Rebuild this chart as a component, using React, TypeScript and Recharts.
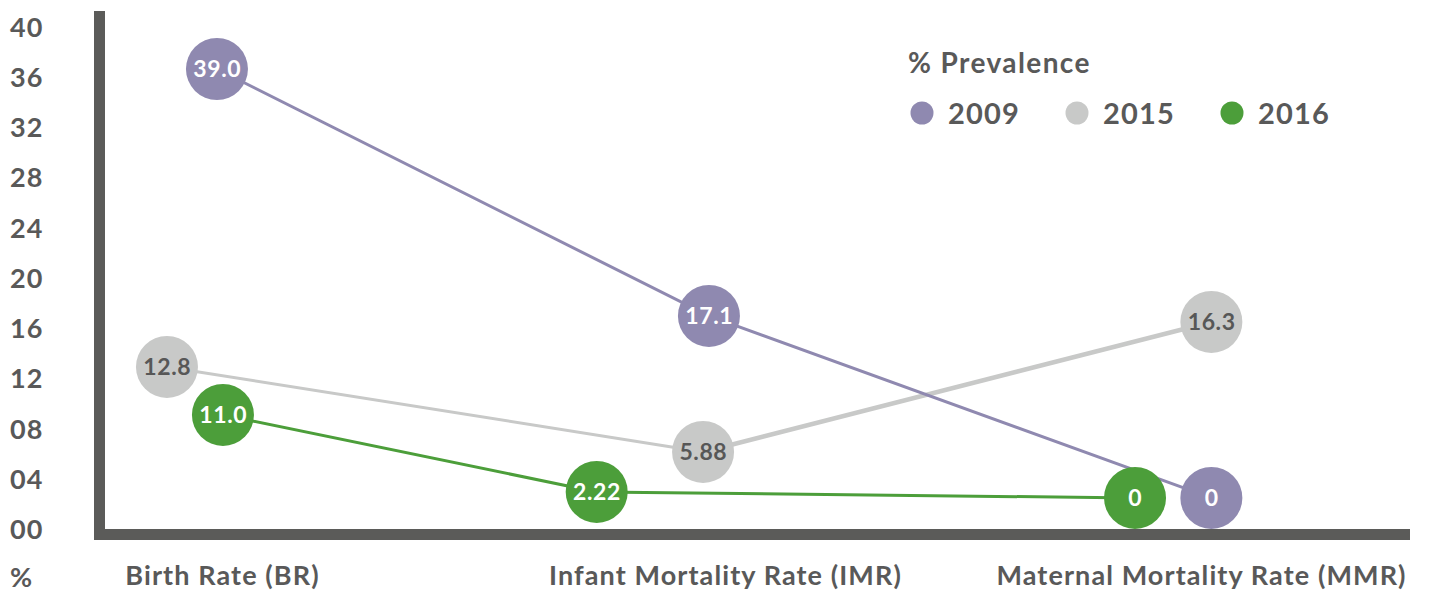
import React from 'react';
import { LineChart, Line, XAxis, YAxis, Legend, Label } from 'recharts';

// ---- data ----
const categories = ['Birth Rate (BR)', 'Infant Mortality Rate (IMR)', 'Maternal Mortality Rate (MMR)'];
const categoryPositions = [9.39, 47.93, 84.41];
const yTicks = [0, 4, 8, 12, 16, 20, 24, 28, 32, 36, 40];
const yTickLabels = ['00', '04', '08', '12', '16', '20', '24', '28', '32', '36', '40'];

const years = ['2009', '2015', '2016'];
const colors = ['#8f89b0', '#c8c9c8', '#4c9e3a'];
const labelColors = ['#ffffff', '#575757', '#ffffff'];

const x2009 = [9.0, 46.7, 85.2];
const y2009 = [36.66, 17.0, 2.51];
const labels2009 = ['39.0', '17.1', '0'];

const x2015 = [5.17, 46.25, 85.2];
const y2015 = [12.94, 6.17, 16.52];
const labels2015 = ['12.8', '5.88', '16.3'];

const x2016 = [9.46, 38.1, 79.35];
const y2016 = [9.12, 2.99, 2.51];
const labels2016 = ['11.0', '2.22', '0'];

const build = (xs: number[], ys: number[], labels: string[]) =>
  xs.map((x, i) => ({ x, y: ys[i], label: labels[i] }));

const d2009 = build(x2009, y2009, labels2009);
const d2015 = build(x2015, y2015, labels2015);
const d2016 = build(x2016, y2016, labels2016);

const FONT = 'Lato, "Open Sans", sans-serif';
const TEXT = '#595959';
const AXIS = '#5b5b59';

const makeDot = (fill: string, textFill: string) => (props: any) => {
  const { cx, cy, payload, index } = props;
  if (cx == null || cy == null) return <g key={`d-${index}`} />;
  return (
    <g key={`d-${index}`}>
      <circle cx={cx} cy={cy} r={31} fill={fill} />
      <text
        x={cx + 0.3}
        y={cy}
        dy="0.36em"
        textAnchor="middle"
        fill={textFill}
        fontFamily={FONT}
        fontWeight={700}
        fontSize={23}
        letterSpacing={0.6}
      >
        {payload.label}
      </text>
    </g>
  );
};

const YTick = (props: any) => {
  const { y, payload } = props;
  const idx = yTicks.indexOf(payload.value);
  return (
    <text x={10} y={y} dy="0.36em" textAnchor="start" fill={TEXT} fontFamily={FONT} fontWeight={700} fontSize={27} letterSpacing={1.2}>
      {yTickLabels[idx]}
    </text>
  );
};

const XTick = (props: any) => {
  const { x, y, payload } = props;
  const idx = categoryPositions.indexOf(payload.value);
  return (
    <text x={x + 0.5} y={y} dy={42} textAnchor="middle" fill={TEXT} fontFamily={FONT} fontWeight={700} fontSize={27} letterSpacing={1.1}>
      {categories[idx]}
    </text>
  );
};

const legendCircleX = [922, 1077, 1232];

const LegendBox = () => (
  <svg width={1429} height={150} style={{ display: 'block' }}>
    <text x={908} y={73} fill={TEXT} fontFamily={FONT} fontWeight={700} fontSize={28} letterSpacing={1.4}>
      % Prevalence
    </text>
    {years.map((yr, i) => (
      <g key={yr}>
        <circle cx={legendCircleX[i]} cy={113} r={11.5} fill={colors[i]} />
        <text x={legendCircleX[i] + 26} y={124} fill={TEXT} fontFamily={FONT} fontWeight={700} fontSize={29} letterSpacing={1.2}>
          {yr}
        </text>
      </g>
    ))}
  </svg>
);

const axisLineStyle = { stroke: AXIS, strokeWidth: 11, strokeLinecap: 'square' as const };

export default function App() {
  return (
    <div style={{ width: 1429, height: 592, position: 'relative' }}>
      <style>{`body{margin:0}`}</style>
      <LineChart
        width={1429}
        height={592}
        margin={{ top: 16.5, right: 24.5, bottom: 0, left: 0 }}
      >
        <XAxis
          type="number"
          dataKey="x"
          domain={[0, 100]}
          ticks={categoryPositions}
          interval={0}
          allowDataOverflow
          tick={<XTick />}
          tickLine={false}
          axisLine={axisLineStyle}
          height={57.5}
        />
        <YAxis
          type="number"
          dataKey="y"
          domain={[-0.4, 40.84]}
          ticks={yTicks}
          interval={0}
          allowDataOverflow
          tick={<YTick />}
          tickLine={false}
          axisLine={axisLineStyle}
          width={99.5}
        >
          <Label
            content={(p: any) => {
              const vb = p.viewBox || {};
              return (
                <text
                  x={10}
                  y={(vb.y || 0) + (vb.height || 0) + 52.5}
                  fill={TEXT}
                  fontFamily={FONT}
                  fontWeight={700}
                  fontSize={27}
                >
                  %
                </text>
              );
            }}
          />
        </YAxis>
        <Legend
          verticalAlign="middle"
          layout="horizontal"
          align="center"
          wrapperStyle={{ top: 0, left: 0, width: 1429, height: 150, pointerEvents: 'none' }}
          content={() => <LegendBox />}
        />
        {/* 2015 line segments (different widths) */}
        <Line
          data={d2015.slice(0, 2)}
          dataKey="y"
          stroke={colors[1]}
          strokeWidth={3}
          dot={false}
          activeDot={false}
          legendType="none"
          isAnimationActive={false}
        />
        <Line
          data={d2015.slice(1, 3)}
          dataKey="y"
          stroke={colors[1]}
          strokeWidth={4.5}
          dot={false}
          activeDot={false}
          legendType="none"
          isAnimationActive={false}
        />
        {/* 2009 */}
        <Line
          data={d2009}
          dataKey="y"
          stroke={colors[0]}
          strokeWidth={3}
          dot={makeDot(colors[0], labelColors[0])}
          activeDot={false}
          legendType="none"
          isAnimationActive={false}
        />
        {/* 2016 */}
        <Line
          data={d2016}
          dataKey="y"
          stroke={colors[2]}
          strokeWidth={3}
          dot={makeDot(colors[2], labelColors[2])}
          activeDot={false}
          legendType="none"
          isAnimationActive={false}
        />
        {/* 2015 dots */}
        <Line
          data={d2015}
          dataKey="y"
          stroke="none"
          dot={makeDot(colors[1], labelColors[1])}
          activeDot={false}
          legendType="none"
          isAnimationActive={false}
        />
      </LineChart>
    </div>
  );
}
